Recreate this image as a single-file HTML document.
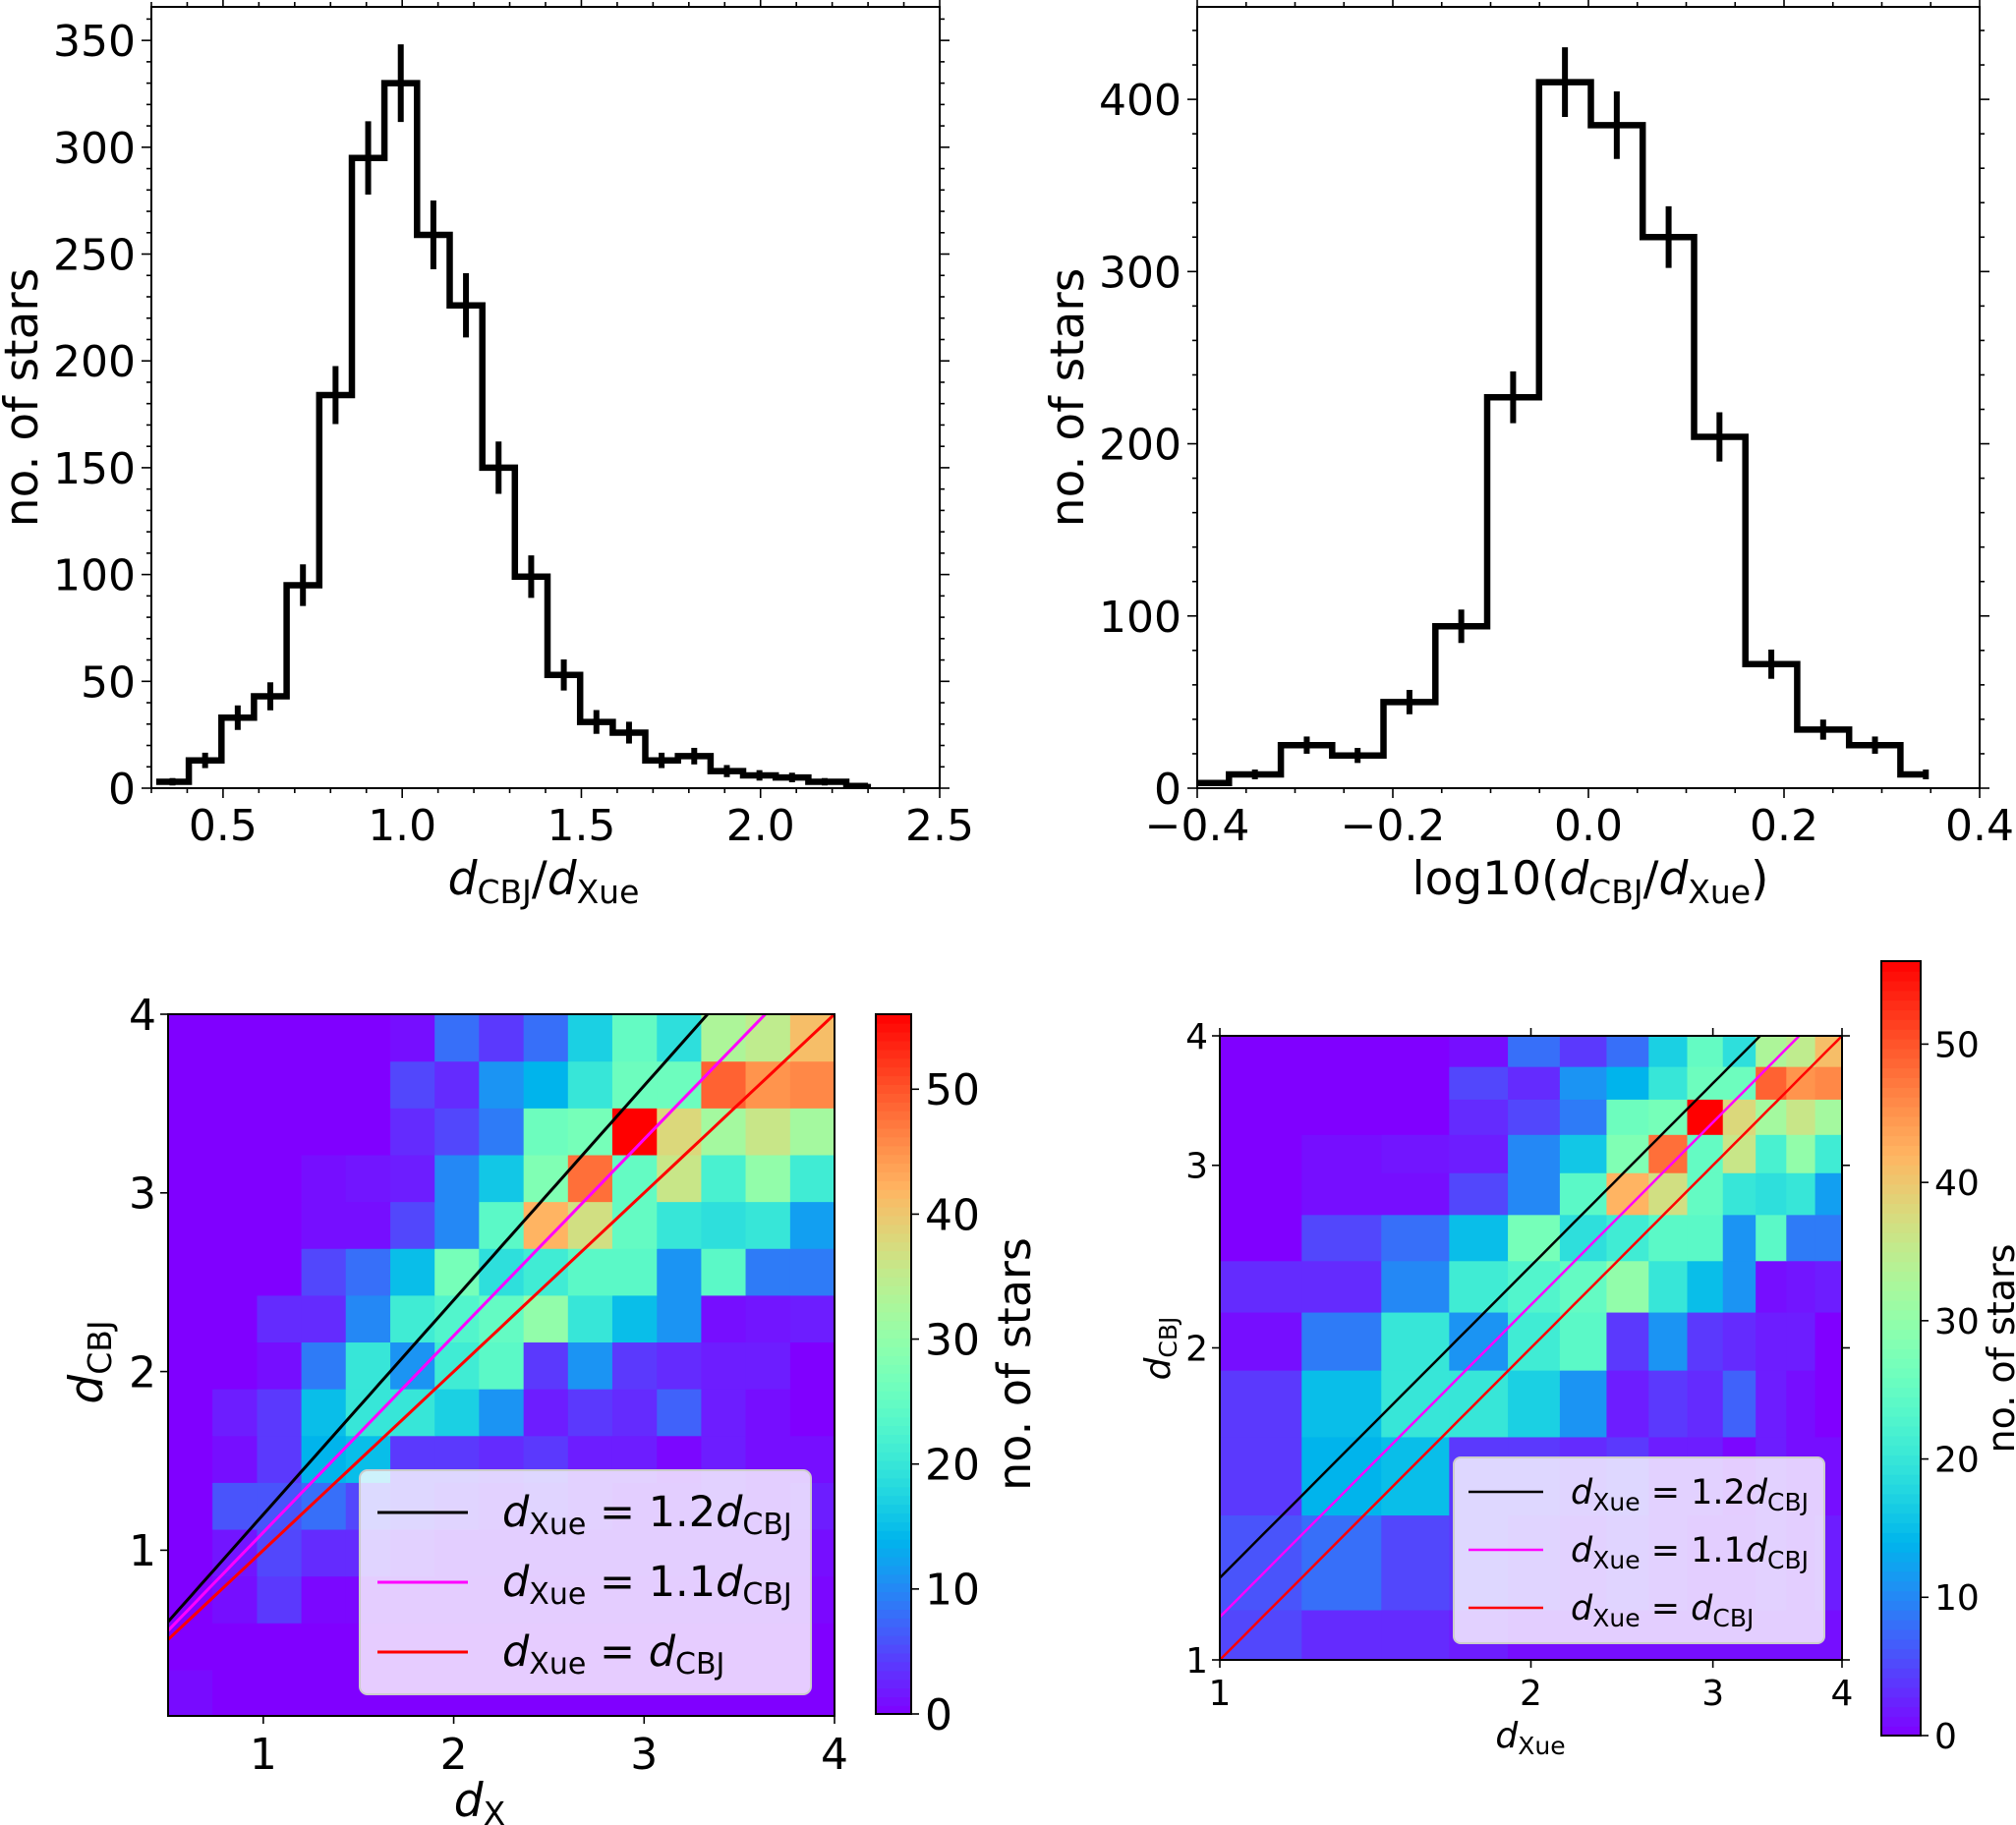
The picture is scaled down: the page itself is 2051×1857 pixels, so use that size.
<!DOCTYPE html>
<html><head><meta charset="utf-8"><style>
html,body{margin:0;padding:0;background:#fff;}
svg{display:block;font-family:"DejaVu Sans","Liberation Sans",sans-serif;}
</style></head><body>
<svg id="fig" xmlns="http://www.w3.org/2000/svg" width="2051" height="1857" viewBox="0 0 2051 1857">
<defs>
<clipPath id="clipH1"><rect x="154" y="7" width="802" height="795"/></clipPath>
<clipPath id="clipH2"><rect x="1218" y="7" width="796" height="795"/></clipPath>
<clipPath id="clipM1"><rect x="171" y="1032" width="678" height="714"/></clipPath>
<clipPath id="clipM2"><rect x="1241" y="1054" width="633" height="635"/></clipPath>
</defs>
<g id="layer"></g>
</svg>
<script>
// ---------- DATA ----------
const hist1Centers = [0.359,0.450,0.541,0.632,0.723,0.814,0.905,0.996,1.087,1.178,1.269,1.360,1.451,1.542,1.633,1.724,1.815,1.906,1.997,2.088,2.179,2.300];
const hist1Counts  = [3,13,33,43,95,184,295,330,259,226,150,99,53,31,26,13,15,8,6,5,3,1];
const hist1XTicks = [0.5,1.0,1.5,2.0,2.5];
const hist1XLabels = ["0.5","1.0","1.5","2.0","2.5"];
const hist1YTicks = [0,50,100,150,200,250,300,350];

const hist2Centers = [-0.394,-0.341,-0.288,-0.236,-0.183,-0.130,-0.077,-0.024,0.029,0.082,0.134,0.187,0.240,0.293,0.345];
const hist2Counts  = [3,8,25,19,50,94,227,410,385,320,204,72,34,25,8];
const hist2XTicks = [-0.4,-0.2,0.0,0.2,0.4];
const hist2XLabels = ["\u22120.4","\u22120.2","0.0","0.2","0.4"];
const hist2YTicks = [0,100,200,300,400];

const gridXEdges = [0.5,0.733,0.967,1.2,1.433,1.667,1.9,2.133,2.367,2.6,2.833,3.067,3.3,3.533,3.767,4.0];
const gridYEdges = [0.07,0.332,0.594,0.856,1.118,1.38,1.642,1.904,2.166,2.428,2.69,2.952,3.214,3.476,3.738,4.0];
// rows from bottom (row 0) to top (row 14), columns left to right
const gridCounts = [
 [0.8,0,0,0,0,0,0,0,0,0,0,0,0,0,0],
 [0,0,0,0,0,0,0,0,0,0,0,0,0,0,0],
 [0,1,4,0.5,0.5,0.5,0.5,0.5,0.5,0.5,0.5,0.5,0.5,0.5,0.5],
 [0,1.5,5,3,3,2,1,1,1,1,1,1,1,1,1],
 [0,6,6,8,5,4,3,2,3,2,1,1,2,1,2],
 [0,1,4,14,15,4,4,3,4,2,2,0.5,2,1,1],
 [0,2,4,15,20,20,17,11,2,4,3,7,2,1,0],
 [0,0,1,9,20,11,21,24,4,11,4,3,2,2,0],
 [0,0,3,3,10,21,23,25,30,20,15,11,1,1.5,2],
 [0,0,0,5,8,15,27,19,21,24,24,11,24,9,9],
 [0,0,0,1,1,5,10,24,42,37,25,20,19,20,12],
 [0,0,0,1,1.5,2,10,16,28,48,25,36,22,30,21],
 [0,0,0,0,0,3,5,9,26,27,56,38,32,36,32],
 [0,0,0,0,0,5,3,11,14,20,26,26,49,45,46],
 [0,0,0,0,0,1,8,4,8,17,25,19,33,35,41]
];
const cbarTicks = [0,10,20,30,40,50];
const cbarMax = 56;
const ratioLines = [1.2,1.1,1.0];
const ratioColors = ["#000000","#ff00ff","#ff0000"];

// ---------- HELPERS ----------
const NS="http://www.w3.org/2000/svg";
const layer=document.getElementById('layer');
function mk(tag,attrs,parent){const e=document.createElementNS(NS,tag);for(const k in attrs)e.setAttribute(k,attrs[k]);(parent||layer).appendChild(e);return e;}
function rainbow(v){let x=Math.max(0,Math.min(1,v/cbarMax));let r=Math.min(1,Math.abs(2*x-0.5)),g=Math.sin(x*Math.PI),b=Math.cos(x*Math.PI/2);
 return `rgb(${Math.round(r*255)},${Math.round(Math.max(0,g)*255)},${Math.round(Math.max(0,b)*255)})`;}

// ---------- HISTOGRAM ----------
function histogram(o){
 const g=mk('g',{});
 
 
 const X=v=>o.x0+(v-o.xmin)/(o.xmax-o.xmin)*(o.x1-o.x0);
 const Y=v=>o.y1-(v-0)/(o.ymax)*(o.y1-o.y0);
 const w=o.centers[1]-o.centers[0];
 let d='';
 o.centers.forEach((c,i)=>{
   const xa=i===0?Math.max(o.xmin,c-w/2):(c+o.centers[i-1])/2;
   const xb=i===o.centers.length-1?c:(c+o.centers[i+1])/2;
   d+=(i===0?'M':'L')+X(xa).toFixed(1)+','+Y(o.counts[i]).toFixed(1)+'L'+X(xb).toFixed(1)+','+Y(o.counts[i]).toFixed(1);
 });
 const gc=mk('g',{'clip-path':`url(#${o.clip})`},g);
 const p=mk('path',{d:d,fill:'none',stroke:'#000','stroke-width':6.5,'stroke-linejoin':'miter'},gc);
 
 
 o.centers.forEach((c,i)=>{
   const e=Math.sqrt(o.counts[i]);
   const l=mk('line',{x1:X(c),x2:X(c),y1:Y(o.counts[i]-e),y2:Y(o.counts[i]+e),stroke:'#000','stroke-width':6},gc);
   
   
 });
 const fr=mk('rect',{x:o.x0,y:o.y0,width:o.x1-o.x0,height:o.y1-o.y0,fill:'none',stroke:'#000','stroke-width':2},g);
 
 
 for(let v=o.xmin;v<=o.xmax+1e-9;v+=o.xminor){
   const major=o.xticks.some(t=>Math.abs(t-v)<1e-6);
   const L=major?10:5;
   mk('line',{x1:X(v),x2:X(v),y1:o.y1,y2:o.y1+L,stroke:'#000','stroke-width':1.6},g);
   mk('line',{x1:X(v),x2:X(v),y1:o.y0,y2:o.y0-L,stroke:'#000','stroke-width':1.6},g);
 }
 o.xticks.forEach((t,i)=>{
   const tx=mk('text',{x:X(t),y:o.y1+53,'font-size':44,'text-anchor':'middle',fill:'#000'},g);
   tx.textContent=o.xlabels[i];
   
   
 });
 for(let v=0;v<=o.ymax;v+=o.yminor){
   const major=o.yticks.some(t=>Math.abs(t-v)<1e-6);
   const L=major?10:5;
   mk('line',{x1:o.x0,x2:o.x0-L,y1:Y(v),y2:Y(v),stroke:'#000','stroke-width':1.6},g);
   mk('line',{x1:o.x1,x2:o.x1+L,y1:Y(v),y2:Y(v),stroke:'#000','stroke-width':1.6},g);
 }
 o.yticks.forEach(t=>{
   const tx=mk('text',{x:o.x0-16,y:Y(t)+16,'font-size':44,'text-anchor':'end',fill:'#000'},g);
   tx.textContent=String(t);
   
   
 });
 const yl=mk('text',{x:0,y:0,'font-size':47,'text-anchor':'middle',fill:'#000',transform:`translate(${o.ylabx},${(o.y0+o.y1)/2}) rotate(-90)`},g);
 yl.textContent='no. of stars';
 
 
 return g;
}

histogram({name:'ratio-histogram',clip:'clipH1',x0:154,x1:956,y0:7,y1:802,xmin:0.3,xmax:2.5,ymax:365.7,
 centers:hist1Centers,counts:hist1Counts,xticks:hist1XTicks,xlabels:hist1XLabels,xminor:0.1,yticks:hist1YTicks,yminor:10,ylabx:38});
histogram({name:'log-ratio-histogram',clip:'clipH2',x0:1218,x1:2014,y0:7,y1:802,xmin:-0.4,xmax:0.4,ymax:453.7,
 centers:hist2Centers,counts:hist2Counts,xticks:hist2XTicks,xlabels:hist2XLabels,xminor:0.05,yticks:hist2YTicks,yminor:20,ylabx:1102});

// ---------- HEATMAPS ----------
function heatmap(o){
 const g=mk('g',{});
 
 
 const gc=mk('g',{'clip-path':`url(#${o.clip})`},g);
 for(let r=0;r<gridCounts.length;r++){
  for(let c=0;c<gridCounts[r].length;c++){
   const xa=o.X(Math.max(gridXEdges[c],o.xmin)),xb=o.X(gridXEdges[c+1]);
   const ya=o.Y(gridYEdges[r+1]),yb=o.Y(Math.max(gridYEdges[r],o.ymin));
   if(xb<=xa||yb<=ya)continue;
   const cell=mk('rect',{x:xa,y:ya,width:xb-xa+0.6,height:yb-ya+0.6,fill:rainbow(gridCounts[r][c])},gc);
   
   
  }
 }
 ratioLines.forEach((k,i)=>{
  const pts=[];
  for(let s=0;s<=60;s++){const x=o.xmin+(o.xmax-o.xmin)*s/60;pts.push(o.X(x).toFixed(1)+','+o.Y(k*x).toFixed(1));}
  const pl=mk('polyline',{points:pts.join(' '),fill:'none',stroke:ratioColors[i],'stroke-width':o.lw},gc);
  
  
 });
 const fr=mk('rect',{x:o.x0,y:o.y0,width:o.x1-o.x0,height:o.y1-o.y0,fill:'none',stroke:'#000','stroke-width':2},g);
 
 
 o.xticks.forEach(t=>{
  mk('line',{x1:o.X(t),x2:o.X(t),y1:o.y1,y2:o.y1+8,stroke:'#000','stroke-width':1.6},g);
  if(o.box) mk('line',{x1:o.X(t),x2:o.X(t),y1:o.y0,y2:o.y0-8,stroke:'#000','stroke-width':1.6},g);
  const tx=mk('text',{x:o.X(t),y:o.y1+o.fs+10,'font-size':o.fs,'text-anchor':'middle',fill:'#000'},g);
  tx.textContent=String(t);
  
  
 });
 o.yticks.forEach(t=>{
  mk('line',{x1:o.x0,x2:o.x0-8,y1:o.Y(t),y2:o.Y(t),stroke:'#000','stroke-width':1.6},g);
  if(o.box) mk('line',{x1:o.x1,x2:o.x1+8,y1:o.Y(t),y2:o.Y(t),stroke:'#000','stroke-width':1.6},g);
  const tx=mk('text',{x:o.x0-12,y:o.Y(t)+o.fs*0.36,'font-size':o.fs,'text-anchor':'end',fill:'#000'},g);
  tx.textContent=String(t);
  
  
 });
 const cb=mk('g',{},g);
 
 
 const n=80,ch=(o.cb.y1-o.cb.y0)/n;
 for(let i=0;i<n;i++){mk('rect',{x:o.cb.x0,y:o.cb.y1-(i+1)*ch,width:o.cb.x1-o.cb.x0,height:ch+0.8,fill:rainbow((i+0.5)/n*cbarMax)},cb);}
 mk('rect',{x:o.cb.x0,y:o.cb.y0,width:o.cb.x1-o.cb.x0,height:o.cb.y1-o.cb.y0,fill:'none',stroke:'#000','stroke-width':2},cb);
 cbarTicks.forEach(t=>{
  const y=o.cb.y1-t/cbarMax*(o.cb.y1-o.cb.y0);
  mk('line',{x1:o.cb.x1,x2:o.cb.x1+8,y1:y,y2:y,stroke:'#000','stroke-width':1.6},cb);
  const tx=mk('text',{x:o.cb.x1+14,y:y+o.fs*0.36,'font-size':o.fs,fill:'#000'},cb);
  tx.textContent=String(t);
  
  
 });
 const cl=mk('text',{x:0,y:0,'font-size':o.fs+2,'text-anchor':'middle',fill:'#000',transform:`translate(${o.cb.labx},${(o.cb.y0+o.cb.y1)/2}) rotate(-90)`},cb);
 cl.textContent='no. of stars';
 
 
 return g;
}
const L4=Math.log(4);
heatmap({name:'linear-distance-heatmap',clip:'clipM1',x0:171,x1:849,y0:1032,y1:1746,xmin:0.5,xmax:4,ymin:0.07,lw:3,fs:44,box:false,
 X:v=>171+(v-0.5)/3.5*678, Y:v=>1032+(4-v)*181.8, xticks:[1,2,3,4], yticks:[1,2,3,4],
 cb:{x0:891,x1:927,y0:1032,y1:1744,labx:1048}});
heatmap({name:'log-distance-heatmap',clip:'clipM2',x0:1241,x1:1874,y0:1054,y1:1689,xmin:1,xmax:4,ymin:1,lw:2.5,fs:36,box:true,
 X:v=>1241+Math.log(v)/L4*633, Y:v=>1689-Math.log(v)/L4*635, xticks:[1,2,3,4], yticks:[1,2,3,4],
 cb:{x0:1914,x1:1954,y0:978,y1:1766,labx:2049}});
</script>
<svg style="position:absolute;left:0;top:0" width="2051" height="1857" xmlns="http://www.w3.org/2000/svg" font-family="DejaVu Sans, Liberation Sans, sans-serif">
<text x="553" y="910" font-size="47" text-anchor="middle"><tspan font-style="italic">d</tspan><tspan font-size="33" dy="9">CBJ</tspan><tspan dy="-9">/</tspan><tspan font-style="italic">d</tspan><tspan font-size="33" dy="9">Xue</tspan></text>
<text x="1618" y="910" font-size="47" text-anchor="middle">log10(<tspan font-style="italic">d</tspan><tspan font-size="33" dy="9">CBJ</tspan><tspan dy="-9">/</tspan><tspan font-style="italic">d</tspan><tspan font-size="33" dy="9">Xue</tspan><tspan dy="-9">)</tspan></text>
<text x="488" y="1848" font-size="47" text-anchor="middle"><tspan font-style="italic">d</tspan><tspan font-size="33" dy="9">X</tspan></text>
<text font-size="47" text-anchor="middle" transform="translate(104,1386) rotate(-90)"><tspan font-style="italic">d</tspan><tspan font-size="33" dy="9">CBJ</tspan></text>
<text x="1557" y="1778" font-size="36" text-anchor="middle"><tspan font-style="italic">d</tspan><tspan font-size="25" dy="7">Xue</tspan></text>
<text font-size="36" text-anchor="middle" transform="translate(1190,1372) rotate(-90)"><tspan font-style="italic">d</tspan><tspan font-size="25" dy="7">CBJ</tspan></text>
<g>
<rect x="366" y="1496" width="459" height="228" rx="8" fill="#ffffff" fill-opacity="0.8" stroke="#cccccc" stroke-width="2"/>
<line x1="384" x2="476" y1="1539" y2="1539" stroke="#000" stroke-width="3"/>
<line x1="384" x2="476" y1="1610" y2="1610" stroke="#ff00ff" stroke-width="3"/>
<line x1="384" x2="476" y1="1681" y2="1681" stroke="#ff0000" stroke-width="3"/>
<text x="511" y="1553" font-size="43"><tspan font-style="italic">d</tspan><tspan font-size="30" dy="8">Xue</tspan><tspan dy="-8"> = 1.2</tspan><tspan font-style="italic">d</tspan><tspan font-size="30" dy="8">CBJ</tspan></text>
<text x="511" y="1624" font-size="43"><tspan font-style="italic">d</tspan><tspan font-size="30" dy="8">Xue</tspan><tspan dy="-8"> = 1.1</tspan><tspan font-style="italic">d</tspan><tspan font-size="30" dy="8">CBJ</tspan></text>
<text x="511" y="1695" font-size="43"><tspan font-style="italic">d</tspan><tspan font-size="30" dy="8">Xue</tspan><tspan dy="-8"> = </tspan><tspan font-style="italic">d</tspan><tspan font-size="30" dy="8">CBJ</tspan></text>
</g>
<g>
<rect x="1479" y="1483" width="377" height="189" rx="7" fill="#ffffff" fill-opacity="0.8" stroke="#cccccc" stroke-width="2"/>
<line x1="1494" x2="1570" y1="1518" y2="1518" stroke="#000" stroke-width="2.5"/>
<line x1="1494" x2="1570" y1="1577" y2="1577" stroke="#ff00ff" stroke-width="2.5"/>
<line x1="1494" x2="1570" y1="1636" y2="1636" stroke="#ff0000" stroke-width="2.5"/>
<text x="1598" y="1530" font-size="35"><tspan font-style="italic">d</tspan><tspan font-size="25" dy="7">Xue</tspan><tspan dy="-7"> = 1.2</tspan><tspan font-style="italic">d</tspan><tspan font-size="25" dy="7">CBJ</tspan></text>
<text x="1598" y="1589" font-size="35"><tspan font-style="italic">d</tspan><tspan font-size="25" dy="7">Xue</tspan><tspan dy="-7"> = 1.1</tspan><tspan font-style="italic">d</tspan><tspan font-size="25" dy="7">CBJ</tspan></text>
<text x="1598" y="1648" font-size="35"><tspan font-style="italic">d</tspan><tspan font-size="25" dy="7">Xue</tspan><tspan dy="-7"> = </tspan><tspan font-style="italic">d</tspan><tspan font-size="25" dy="7">CBJ</tspan></text>
</g>
</svg>
</body></html>
